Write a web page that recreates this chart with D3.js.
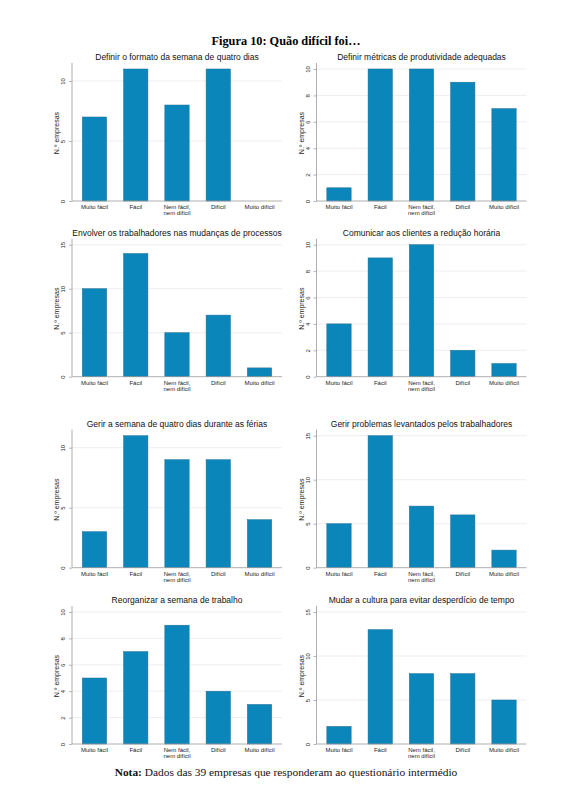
<!DOCTYPE html>
<html>
<head>
<meta charset="utf-8">
<script src="https://cdn.jsdelivr.net/npm/d3@7"></script>
<style>
  body { margin: 0; background: #fff; }
  svg { display: block; }
</style>
</head>
<body>
<div id="chart"></div>
<script>
// Dados
const categorias = ["Muito fácil", "Fácil", "Nem fácil, nem difícil", "Difícil", "Muito difícil"];

const titulos = [
  "Definir o formato da semana de quatro dias",
  "Definir métricas de produtividade adequadas",
  "Envolver os trabalhadores nas mudanças de processos",
  "Comunicar aos clientes a redução horária",
  "Gerir a semana de quatro dias durante as férias",
  "Gerir problemas levantados pelos trabalhadores",
  "Reorganizar a semana de trabalho",
  "Mudar a cultura para evitar desperdício de tempo"
];

const valores = [
  [7, 11, 8, 11, 0],
  [1, 10, 10, 9, 7],
  [10, 14, 5, 7, 1],
  [4, 9, 10, 2, 1],
  [3, 11, 9, 9, 4],
  [5, 15, 7, 6, 2],
  [5, 7, 9, 4, 3],
  [2, 13, 8, 8, 5]
];

const ticksY = [
  [0, 5, 10],
  [0, 2, 4, 6, 8, 10],
  [0, 5, 10, 15],
  [0, 2, 4, 6, 8, 10],
  [0, 5, 10],
  [0, 5, 10, 15],
  [0, 2, 4, 6, 8, 10],
  [0, 5, 10, 15]
];

const tituloFigura = "Figura 10: Quão difícil foi…";
const notaRotulo = "Nota:";
const notaTexto = " Dados das 39 empresas que responderam ao questionário intermédio";

// layout
const W = 576, H = 795;
const colX = [72, 316.5];        // posição do eixo y de cada coluna
const plotW = 210;
const baseY = [201, 376.7, 567.7, 744];
const plotH = 132;
const azul = "#0a86bb";
const sans = "'Liberation Sans', Arial, sans-serif";
const serif = "'Liberation Serif', 'Times New Roman', serif";

const svg = d3.select("#chart").append("svg")
  .attr("width", W)
  .attr("height", H);

svg.append("text")
  .attr("x", 286)
  .attr("y", 45)
  .attr("text-anchor", "middle")
  .style("font-family", serif)
  .style("font-weight", "bold")
  .style("font-size", "12.3px")
  .text(tituloFigura);

valores.forEach(function(vals, i) {
  let x0 = colX[i % 2],
      y0 = baseY[Math.floor(i / 2)];
  let ticks = ticksY[i];
  let topo = Math.max(d3.max(vals), d3.max(ticks));

  let x = d3.scaleBand()
    .domain(categorias)
    .range([x0, x0 + plotW])
    .paddingInner(0.41)
    .paddingOuter(0.25);

  let y = d3.scaleLinear()
    .domain([0, topo])
    .range([y0, y0 - plotH]);

  let g = svg.append("g");

  // grelha
  g.selectAll(".grid")
    .data(ticks.filter(t => t > 0))
    .enter().append("line")
      .attr("x1", x0)
      .attr("x2", x0 + plotW)
      .attr("y1", d => y(d))
      .attr("y2", d => y(d))
      .style("stroke", "#e6e6e6")
      .style("stroke-width", 0.7);

  // barras
  g.selectAll(".bar")
    .data(vals.map((v, j) => ({cat: categorias[j], v: v})).filter(d => d.v > 0))
    .enter().append("rect")
      .attr("x", d => x(d.cat))
      .attr("y", d => y(d.v))
      .attr("width", x.bandwidth())
      .attr("height", d => y(0) - y(d.v))
      .style("fill", azul)
      .style("stroke", "#1f6e92")
      .style("stroke-width", 0.5);

  // eixo y
  let eixoY = g.append("g")
    .attr("transform", "translate(" + x0 + ",0)")
    .call(d3.axisLeft(y).tickValues(ticks).tickSize(3).tickPadding(2))
    .call(g => g.select(".domain").remove());
  eixoY.selectAll("line").style("stroke", "#999").style("stroke-width", 0.7);
  eixoY.selectAll("text")
    .attr("x", null)
    .attr("dy", null)
    .attr("transform", "translate(-7,0) rotate(-90)")
    .attr("text-anchor", "middle")
    .style("font-family", sans)
    .style("font-size", "6px")
    .style("fill", "#222");

  g.append("line")
    .attr("x1", x0).attr("x2", x0)
    .attr("y1", y0).attr("y2", y0 - plotH - 6)
    .style("stroke", "#999")
    .style("stroke-width", 0.8);

  // eixo x
  g.append("line")
    .attr("x1", x0).attr("x2", x0 + plotW)
    .attr("y1", y0).attr("y2", y0)
    .style("stroke", "#999")
    .style("stroke-width", 0.8);

  categorias.forEach(function(c) {
    let linhas = c.indexOf(", ") > 0 ? [c.split(", ")[0] + ",", c.split(", ")[1]] : [c];
    let t = g.append("text")
      .attr("text-anchor", "middle")
      .style("font-family", sans)
      .style("font-size", "6px")
      .style("fill", "#222");
    linhas.forEach(function(l, k) {
      t.append("tspan")
        .attr("x", x(c) + x.bandwidth() / 2)
        .attr("y", y0 + 8 + k * 6)
        .text(l);
    });
  });

  // título do eixo y
  g.append("text")
    .attr("transform", "translate(" + (x0 - 13) + "," + (y0 - plotH / 2 - 2) + ") rotate(-90)")
    .attr("text-anchor", "middle")
    .style("font-family", sans)
    .style("font-size", "7px")
    .style("fill", "#222")
    .text("N.º empresas");

  // título do painel
  g.append("text")
    .attr("x", x0 + plotW / 2)
    .attr("y", y0 - plotH - 9)
    .attr("text-anchor", "middle")
    .style("font-family", sans)
    .style("font-size", "8.5px")
    .style("fill", "#111")
    .text(titulos[i]);
});

let nota = svg.append("text")
  .attr("x", 286)
  .attr("y", 776)
  .attr("text-anchor", "middle")
  .style("font-family", serif)
  .style("font-size", "11.4px")
  .style("fill", "#111");
nota.append("tspan").style("font-weight", "bold").text(notaRotulo);
nota.append("tspan").text(notaTexto);
</script>
</body>
</html>
